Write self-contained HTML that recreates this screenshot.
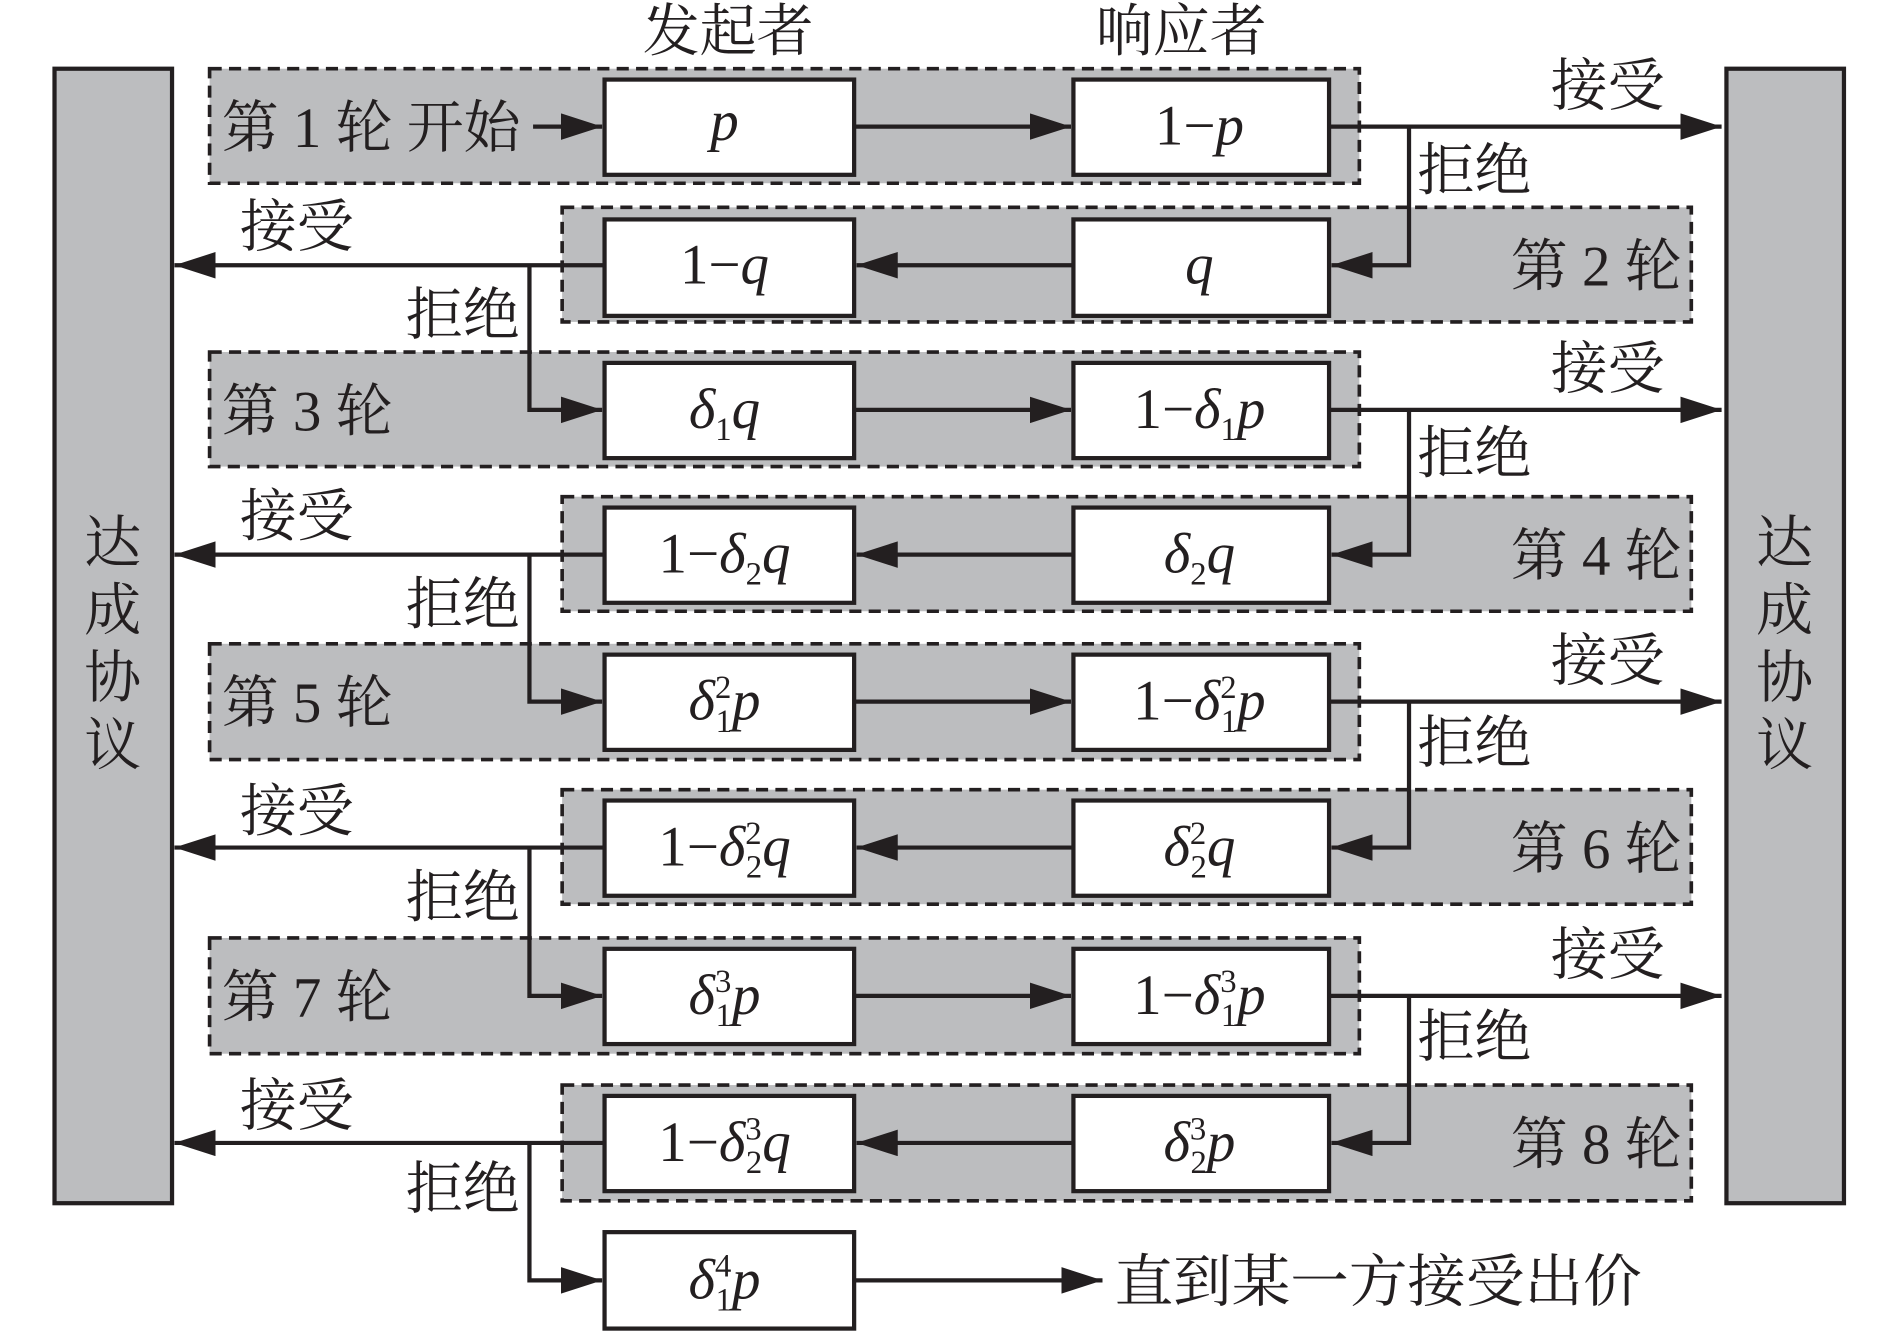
<!DOCTYPE html>
<html><head><meta charset="utf-8"><style>
html,body{margin:0;padding:0;background:#fff;}
svg{display:block;}
.c{font-family:"Liberation Serif","Noto Serif CJK SC",serif;font-size:47px;fill:#231f20;}
.m{font-family:"Liberation Serif",serif;font-size:47px;fill:#231f20;}
.i{font-style:italic;}
.s{font-size:27px;}
.ln{stroke:#231f20;stroke-width:3.5;fill:none;}
.bx{fill:#fff;stroke:#231f20;stroke-width:3.5;}
.ds{fill:#bcbdbf;stroke:#231f20;stroke-width:3;stroke-dasharray:10 6;}
</style></head><body>
<svg width="1890" height="1331" viewBox="0 0 1560 1104" preserveAspectRatio="none" xmlns="http://www.w3.org/2000/svg">
<defs><marker id="a" markerUnits="userSpaceOnUse" markerWidth="36" markerHeight="24" refX="34" refY="11" orient="auto"><path d="M0,0 L34,11 L0,22 z" fill="#231f20"/></marker></defs>
<rect x="45" y="57" width="97" height="941" fill="#bcbdbf" stroke="#231f20" stroke-width="3.5"/>
<rect x="1425" y="57" width="97" height="941" fill="#bcbdbf" stroke="#231f20" stroke-width="3.5"/>
<g class="c" text-anchor="middle">
<text x="93" y="466">达</text><text x="93" y="522">成</text><text x="93" y="578">协</text><text x="93" y="634">议</text>
<text x="1473" y="466">达</text><text x="1473" y="522">成</text><text x="1473" y="578">协</text><text x="1473" y="634">议</text>
<text x="601" y="42">发起者</text><text x="975" y="42">响应者</text>
</g>
<rect class="ds" x="173" y="57" width="949" height="95"/>
<rect class="ds" x="464" y="172" width="932" height="95"/>
<rect class="ds" x="173" y="292" width="949" height="95"/>
<rect class="ds" x="464" y="412" width="932" height="95"/>
<rect class="ds" x="173" y="534" width="949" height="96"/>
<rect class="ds" x="464" y="655" width="932" height="95"/>
<rect class="ds" x="173" y="778" width="949" height="96"/>
<rect class="ds" x="464" y="900" width="932" height="96"/>
<g class="bx">
<rect x="499" y="66" width="206" height="79"/><rect x="886" y="66" width="211" height="79"/>
<rect x="499" y="182" width="206" height="80"/><rect x="886" y="182" width="211" height="80"/>
<rect x="499" y="301" width="206" height="79"/><rect x="886" y="301" width="211" height="79"/>
<rect x="499" y="421" width="206" height="79"/><rect x="886" y="421" width="211" height="79"/>
<rect x="499" y="543" width="206" height="79"/><rect x="886" y="543" width="211" height="79"/>
<rect x="499" y="664" width="206" height="79"/><rect x="886" y="664" width="211" height="79"/>
<rect x="499" y="787" width="206" height="79"/><rect x="886" y="787" width="211" height="79"/>
<rect x="499" y="909" width="206" height="79"/><rect x="886" y="909" width="211" height="79"/>
<rect x="499" y="1022" width="206" height="80"/>
</g>
<g class="ln" marker-end="url(#a)">
<path d="M440,105 H497"/>
<path d="M705,105 H884"/><path d="M1097,105 H1421"/><path d="M1163,105 V220 H1099"/>
<path d="M886,220 H707"/><path d="M499,220 H144"/><path d="M437,220 V340 H497"/>
<path d="M705,340 H884"/><path d="M1097,340 H1421"/><path d="M1163,340 V460 H1099"/>
<path d="M886,460 H707"/><path d="M499,460 H144"/><path d="M437,460 V582 H497"/>
<path d="M705,582 H884"/><path d="M1097,582 H1421"/><path d="M1163,582 V703 H1099"/>
<path d="M886,703 H707"/><path d="M499,703 H144"/><path d="M437,703 V826 H497"/>
<path d="M705,826 H884"/><path d="M1097,826 H1421"/><path d="M1163,826 V948 H1099"/>
<path d="M886,948 H707"/><path d="M499,948 H144"/><path d="M437,948 V1062 H497"/>
<path d="M705,1062 H910"/>
</g>
<g class="c">
<text x="183" y="122">第 1 轮 开始</text>
<text x="183" y="357">第 3 轮</text>
<text x="183" y="599">第 5 轮</text>
<text x="183" y="843">第 7 轮</text>
<text x="1388" y="237" text-anchor="end">第 2 轮</text>
<text x="1388" y="477" text-anchor="end">第 4 轮</text>
<text x="1388" y="720" text-anchor="end">第 6 轮</text>
<text x="1388" y="965" text-anchor="end">第 8 轮</text>
<text x="1280" y="87">接受</text><text x="1170" y="157">拒绝</text>
<text x="1280" y="322">接受</text><text x="1170" y="392">拒绝</text>
<text x="1280" y="564">接受</text><text x="1170" y="632">拒绝</text>
<text x="1280" y="808">接受</text><text x="1170" y="876">拒绝</text>
<text x="198" y="204">接受</text><text x="335" y="277">拒绝</text>
<text x="198" y="444">接受</text><text x="335" y="517">拒绝</text>
<text x="198" y="689">接受</text><text x="335" y="760">拒绝</text>
<text x="198" y="933">接受</text><text x="335" y="1002">拒绝</text>
<text x="920" y="1079" textLength="435" lengthAdjust="spacingAndGlyphs">直到某一方接受出价</text>
</g>
<g class="m" text-anchor="middle">
<text x="598" y="116" class="m i">p</text>
<text x="990" y="120">1−<tspan class="i">p</tspan></text>
<text x="598" y="235">1−<tspan class="i">q</tspan></text>
<text x="990" y="235" class="m i">q</text>
<text x="598" y="355"><tspan class="i">δ</tspan><tspan class="s" dy="10">1</tspan><tspan class="i" dy="-10">q</tspan></text>
<text x="990" y="355">1−<tspan class="i">δ</tspan><tspan class="s" dy="10">1</tspan><tspan class="i" dy="-10">p</tspan></text>
<text x="598" y="475">1−<tspan class="i">δ</tspan><tspan class="s" dy="10">2</tspan><tspan class="i" dy="-10">q</tspan></text>
<text x="990" y="475"><tspan class="i">δ</tspan><tspan class="s" dy="10">2</tspan><tspan class="i" dy="-10">q</tspan></text>
<text x="598" y="597"><tspan class="i">δ</tspan><tspan class="s" dy="-18">2</tspan><tspan class="s" dx="-13" dy="28">1</tspan><tspan class="i" dy="-10">p</tspan></text>
<text x="990" y="597">1−<tspan class="i">δ</tspan><tspan class="s" dy="-18">2</tspan><tspan class="s" dx="-13" dy="28">1</tspan><tspan class="i" dy="-10">p</tspan></text>
<text x="598" y="718">1−<tspan class="i">δ</tspan><tspan class="s" dy="-18">2</tspan><tspan class="s" dx="-13" dy="28">2</tspan><tspan class="i" dy="-10">q</tspan></text>
<text x="990" y="718"><tspan class="i">δ</tspan><tspan class="s" dy="-18">2</tspan><tspan class="s" dx="-13" dy="28">2</tspan><tspan class="i" dy="-10">q</tspan></text>
<text x="598" y="841"><tspan class="i">δ</tspan><tspan class="s" dy="-18">3</tspan><tspan class="s" dx="-13" dy="28">1</tspan><tspan class="i" dy="-10">p</tspan></text>
<text x="990" y="841">1−<tspan class="i">δ</tspan><tspan class="s" dy="-18">3</tspan><tspan class="s" dx="-13" dy="28">1</tspan><tspan class="i" dy="-10">p</tspan></text>
<text x="598" y="963">1−<tspan class="i">δ</tspan><tspan class="s" dy="-18">3</tspan><tspan class="s" dx="-13" dy="28">2</tspan><tspan class="i" dy="-10">q</tspan></text>
<text x="990" y="963"><tspan class="i">δ</tspan><tspan class="s" dy="-18">3</tspan><tspan class="s" dx="-13" dy="28">2</tspan><tspan class="i" dy="-10">p</tspan></text>
<text x="598" y="1077"><tspan class="i">δ</tspan><tspan class="s" dy="-18">4</tspan><tspan class="s" dx="-13" dy="28">1</tspan><tspan class="i" dy="-10">p</tspan></text>
</g>
</svg>
</body></html>
